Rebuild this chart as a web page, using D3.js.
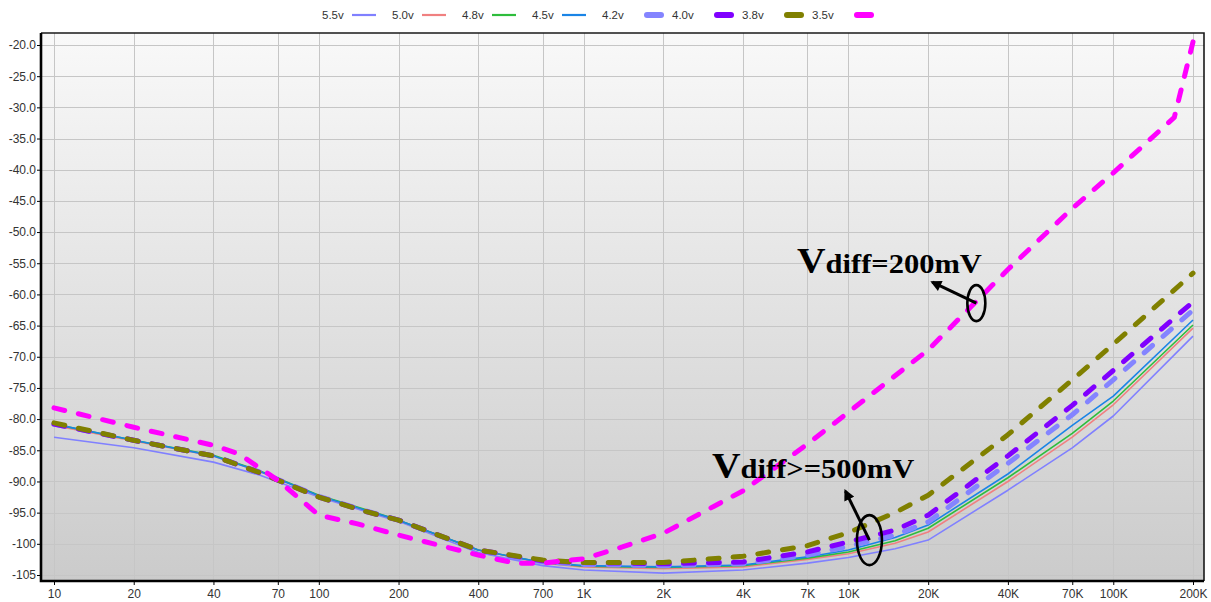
<!DOCTYPE html>
<html>
<head>
<meta charset="utf-8">
<script src="https://cdn.jsdelivr.net/npm/d3@7"></script>
<style>
  body { margin: 0; background: #fff; }
  svg { display: block; }
</style>
</head>
<body>
<svg width="1211" height="602"></svg>
<script>
// frequency points shared by the 5.5v..3.8v sweeps
var freqs = [10, 20, 40, 60, 100, 150, 200, 400, 700, 1000, 2000, 4000, 7000, 10000, 15000, 20000, 40000, 70000, 100000, 200000];
var v55 = [-82.9, -84.6, -86.9, -89.0, -92.5, -94.8, -96.4, -101.4, -103.5, -104.2, -104.7, -104.2, -103.1, -102.2, -100.8, -99.4, -91.4, -84.6, -79.5, -66.7];
var v50 = [-81.0, -83.5, -85.9, -88.4, -92.3, -94.6, -96.2, -101.0, -103.1, -103.7, -104.0, -103.7, -102.5, -101.6, -99.9, -98.1, -90.0, -82.9, -77.7, -65.4];
var v48 = [-80.8, -83.4, -85.8, -88.3, -92.2, -94.5, -96.2, -101.0, -103.0, -103.6, -103.8, -103.5, -102.3, -101.3, -99.5, -97.5, -89.4, -82.3, -77.1, -64.9];
var v45 = [-80.8, -83.4, -85.9, -88.4, -92.3, -94.6, -96.2, -101.0, -103.0, -103.5, -103.7, -103.4, -102.1, -101.0, -99.0, -97.0, -88.8, -81.0, -76.3, -64.1];
var v42 = [-80.8, -83.4, -85.9, -88.5, -92.4, -94.7, -96.2, -101.1, -102.9, -103.3, -103.5, -103.2, -101.8, -100.4, -98.6, -96.5, -87.1, -79.3, -73.7, -62.5];
var v40 = [-80.8, -83.4, -85.9, -88.6, -92.5, -94.8, -96.2, -101.0, -102.7, -103.0, -103.2, -102.9, -101.3, -99.7, -97.8, -95.4, -85.9, -77.8, -72.2, -61.2];
var v38 = [-80.6, -83.4, -85.9, -88.6, -92.5, -94.8, -96.2, -101.0, -102.6, -103.0, -103.0, -102.0, -100.3, -98.2, -95.0, -92.2, -82.5, -73.7, -68.0, -56.6];
// the 3.5v sweep has its own points
var freqs35 = [10, 20, 40, 50, 70, 100, 140, 200, 400, 550, 700, 1000, 1400, 2000, 4000, 7000, 10000, 20000, 40000, 70000, 100000, 170000, 200000];
var v35 = [-78.2, -81.3, -84.2, -85.6, -89.8, -95.4, -96.8, -98.6, -101.8, -103.1, -103.1, -102.4, -100.5, -98.3, -91.5, -84.0, -78.9, -68.9, -56.0, -46.2, -40.5, -31.6, -19.5];

var seriesNames = ["5.5v", "5.0v", "4.8v", "4.5v", "4.2v", "4.0v", "3.8v", "3.5v"];
var xTicks = [10, 20, 40, 70, 100, 200, 400, 700, 1000, 2000, 4000, 7000, 10000, 20000, 40000, 70000, 100000, 200000];
var xTickLabels = ["10", "20", "40", "70", "100", "200", "400", "700", "1K", "2K", "4K", "7K", "10K", "20K", "40K", "70K", "100K", "200K"];
var yTicks = [-20, -25, -30, -35, -40, -45, -50, -55, -60, -65, -70, -75, -80, -85, -90, -95, -100, -105];
var yTickLabels = ["-20.0", "-25.0", "-30.0", "-35.0", "-40.0", "-45.0", "-50.0", "-55.0", "-60.0", "-65.0", "-70.0", "-75.0", "-80.0", "-85.0", "-90.0", "-95.0", "-100", "-105"];

var svg = d3.select("svg");
var box = { left: 41, right: 1204, top: 33, bottom: 581 };

var x = d3.scaleLog([10, 200000], [54, 1193]);
var y = d3.scaleLinear([-105, -20], [575, 45]);

// styles per series, same order as seriesNames
var styles = [
  { color: "#8080ff", width: 1.6, dash: null },
  { color: "#f08080", width: 1.6, dash: null },
  { color: "#2ebd3c", width: 1.6, dash: null },
  { color: "#1a84e6", width: 1.6, dash: null },
  { color: "#8484ff", width: 5, dash: "11,14" },
  { color: "#8000ff", width: 5, dash: "11,14" },
  { color: "#808000", width: 5, dash: "11,14" },
  { color: "#ff00ff", width: 5, dash: "11,14" }
];
var seriesData = [
  d3.zip(freqs, v55), d3.zip(freqs, v50), d3.zip(freqs, v48), d3.zip(freqs, v45),
  d3.zip(freqs, v42), d3.zip(freqs, v40), d3.zip(freqs, v38), d3.zip(freqs35, v35)
];

var defs = svg.append("defs");
var grad = defs.append("linearGradient").attr("id", "bg").attr("x1", 0).attr("y1", 0).attr("x2", 0).attr("y2", 1);
grad.append("stop").attr("offset", "0%").attr("stop-color", "#f9f9f9");
grad.append("stop").attr("offset", "100%").attr("stop-color", "#cbcbcb");
defs.append("clipPath").attr("id", "clip").append("rect")
  .attr("x", box.left).attr("y", box.top)
  .attr("width", box.right - box.left).attr("height", box.bottom - box.top);
defs.append("marker").attr("id", "arrow")
  .attr("viewBox", "0 0 10 10").attr("refX", 8).attr("refY", 5)
  .attr("markerUnits", "userSpaceOnUse").attr("markerWidth", 12).attr("markerHeight", 11)
  .attr("orient", "auto")
  .append("path").attr("d", "M0,0L10,5L0,10z").attr("fill", "#000");

svg.append("rect")
  .attr("x", box.left).attr("y", box.top)
  .attr("width", box.right - box.left).attr("height", box.bottom - box.top)
  .attr("fill", "url(#bg)");

// grid
var grid = svg.append("g").attr("stroke", "#c6c6c6").attr("stroke-width", 1);
grid.selectAll(".vg").data(xTicks).enter().append("line")
  .attr("x1", d => Math.round(x(d)) + 0.5).attr("x2", d => Math.round(x(d)) + 0.5)
  .attr("y1", box.top).attr("y2", box.bottom);
grid.selectAll(".hg").data(yTicks).enter().append("line")
  .attr("y1", d => Math.round(y(d)) + 0.5).attr("y2", d => Math.round(y(d)) + 0.5)
  .attr("x1", box.left).attr("x2", box.right);

// axes
var xAxis = svg.append("g")
  .attr("transform", `translate(0,${box.bottom})`)
  .call(d3.axisBottom(x).tickValues(xTicks).tickFormat((d, i) => xTickLabels[i]).tickSize(4).tickPadding(4));
var yAxis = svg.append("g")
  .attr("transform", `translate(${box.left},0)`)
  .call(d3.axisLeft(y).tickValues(yTicks).tickFormat((d, i) => yTickLabels[i]).tickSize(4).tickPadding(1));
[xAxis, yAxis].forEach(function (a) {
  a.select(".domain").remove();
  a.selectAll("text").attr("font-family", "Liberation Sans, Arial, sans-serif").attr("font-size", 12).attr("fill", "#333");
  a.selectAll("line").attr("stroke", "#000");
});

// curves
var line = d3.line().x(d => x(d[0])).y(d => y(d[1]));
var lines = svg.append("g").attr("clip-path", "url(#clip)");
lines.selectAll("path").data(seriesData).enter().append("path")
  .attr("d", line)
  .attr("fill", "none")
  .attr("stroke", (d, i) => styles[i].color)
  .attr("stroke-width", (d, i) => styles[i].width)
  .attr("stroke-dasharray", (d, i) => styles[i].dash)
  .attr("stroke-linecap", (d, i) => styles[i].dash ? "round" : "butt")
  .attr("stroke-linejoin", "round");

// frame
var frame = svg.append("g").attr("fill", "none");
frame.append("path")
  .attr("d", `M${box.left},${box.top}H${box.right}V${box.bottom}`)
  .attr("stroke", "#1a1a1a").attr("stroke-width", 1.6);
frame.append("path")
  .attr("d", `M${box.left},${box.top}V${box.bottom}H${box.right}`)
  .attr("stroke", "#000").attr("stroke-width", 2.6);

// legend: label first, then its swatch
var legend = svg.append("g").attr("font-family", "Liberation Sans, Arial, sans-serif").attr("font-size", 11.5);
seriesNames.forEach(function (name, i) {
  var lx = 322 + i * 70;
  legend.append("text").attr("x", lx).attr("y", 19).attr("fill", "#333").text(name);
  var thick = styles[i].dash != null;
  legend.append("line")
    .attr("x1", lx + (thick ? 45 : 30)).attr("x2", lx + (thick ? 59 : 54))
    .attr("y1", 15).attr("y2", 15)
    .attr("stroke", styles[i].color)
    .attr("stroke-width", thick ? 6 : 2.2)
    .attr("stroke-linecap", thick ? "round" : "butt");
});

// annotations
function note(tx, ty, rest) {
  var t = svg.append("text")
    .attr("transform", `translate(${tx},${ty}) scale(1.13,1)`)
    .attr("font-family", "Liberation Serif, Times New Roman, serif")
    .attr("font-weight", "bold").attr("fill", "#000");
  t.append("tspan").attr("font-size", 35).text("V");
  t.append("tspan").attr("font-size", 27).text(rest);
}
function circled(f, v, rx, ry, dx, dy) {
  var cx = x(f), cy = y(v);
  svg.append("ellipse").attr("cx", cx).attr("cy", cy).attr("rx", rx).attr("ry", ry)
    .attr("fill", "none").attr("stroke", "#000").attr("stroke-width", 2.6);
  svg.append("line").attr("x1", cx).attr("y1", cy).attr("x2", cx + dx).attr("y2", cy + dy)
    .attr("stroke", "#000").attr("stroke-width", 3).attr("marker-end", "url(#arrow)");
}
note(797, 273, "diff=200mV");
circled(30400, -61.4, 9, 18, -44, -21);
note(712, 478, "diff>=500mV");
circled(12000, -99.4, 12.5, 25, -24, -49);
</script>
</body>
</html>
